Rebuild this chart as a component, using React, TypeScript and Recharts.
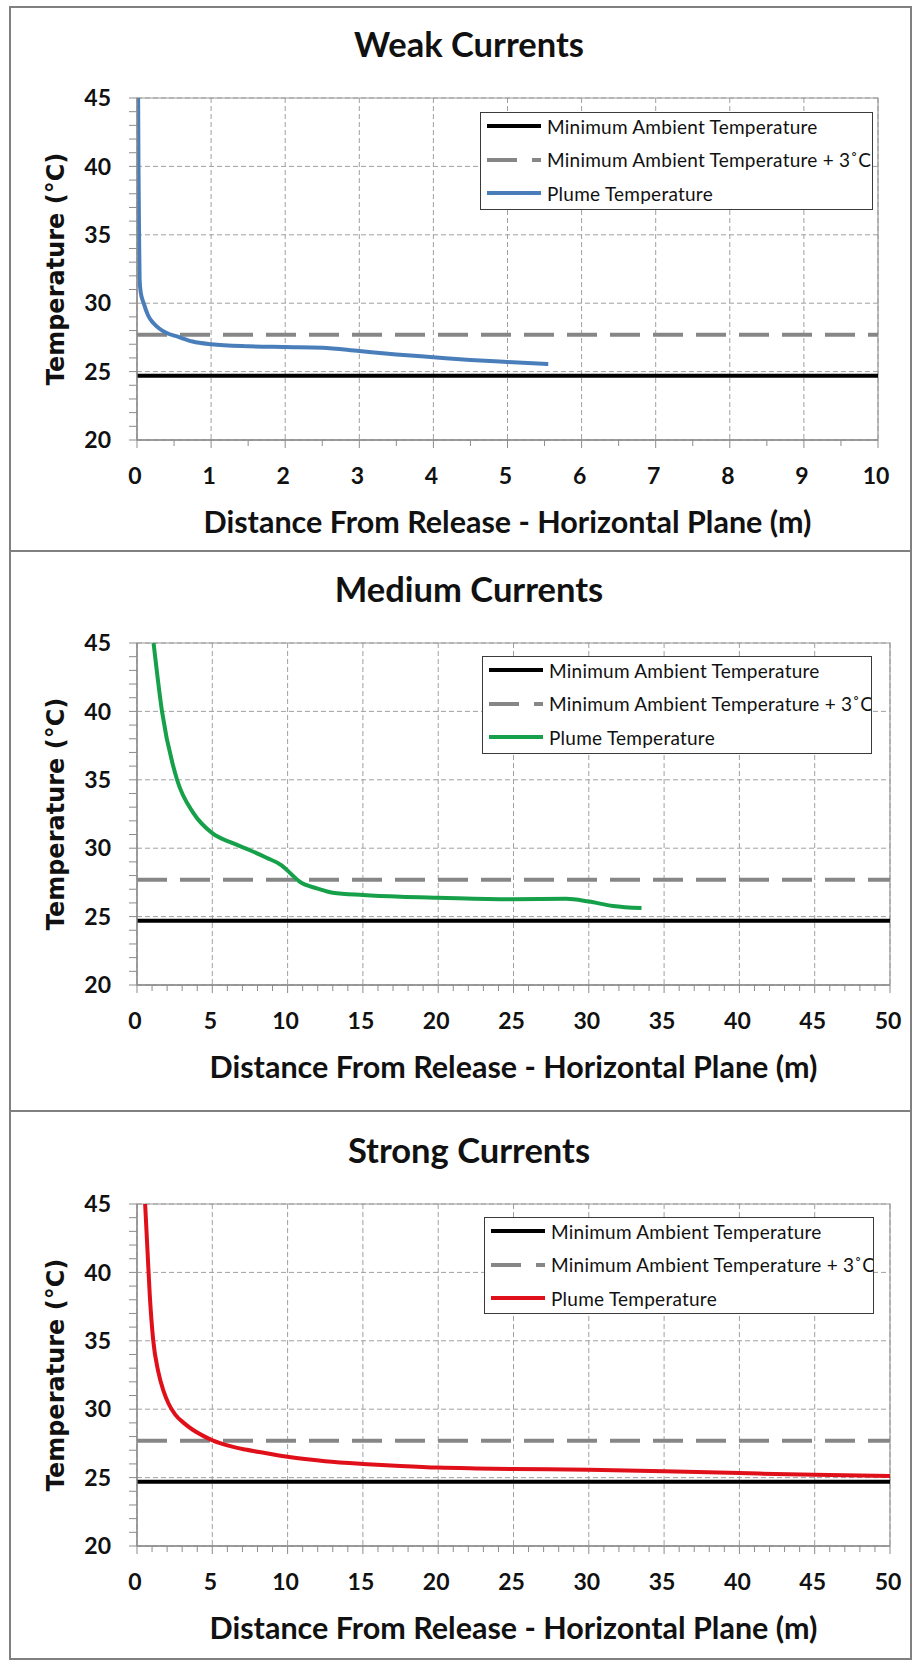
import React from "react";
import { LineChart, Line, XAxis, YAxis, CartesianGrid, ReferenceArea } from "recharts";

// ambient reference levels (°C)
const AMBIENT = 24.7;
const AMBIENT_PLUS_3 = 27.7;

const yMajorTicks = [20, 25, 30, 35, 40, 45];
const yMinorTicks = [20, 21, 22, 23, 24, 25, 26, 27, 28, 29, 30, 31, 32, 33, 34, 35, 36, 37, 38, 39, 40, 41, 42, 43, 44, 45];

const weakXTicks = [0, 1, 2, 3, 4, 5, 6, 7, 8, 9, 10];
const weakXMinor = [0, 0.5, 1, 1.5, 2, 2.5, 3, 3.5, 4, 4.5, 5, 5.5, 6, 6.5, 7, 7.5, 8, 8.5, 9, 9.5, 10];
const wideXTicks = [0, 5, 10, 15, 20, 25, 30, 35, 40, 45, 50];
const wideXMinor = Array.from({ length: 51 }, (_, i) => i);

// Weak currents plume
const weakDistance = [0.015, 0.02, 0.028, 0.035, 0.05, 0.09, 0.15, 0.22, 0.3, 0.4, 0.55, 0.75, 1.0, 1.5, 2.0, 2.5, 3.0, 3.5, 4.0, 4.5, 5.0, 5.55];
const weakTemp = [45, 40, 35, 31.8, 30.8, 30.0, 29.1, 28.55, 28.15, 27.82, 27.55, 27.2, 27.0, 26.85, 26.8, 26.75, 26.5, 26.25, 26.05, 25.85, 25.7, 25.55];

// Medium currents plume
const mediumDistance = [1.1, 1.66, 2.66, 3.76, 5.0, 6.4, 7.5, 8.6, 9.6, 10.2, 10.8, 12.0, 13.0, 15.0, 17.5, 20.0, 25.0, 28.5, 30.0, 31.6, 33.5];
const mediumTemp = [45, 40, 35, 32.55, 31.1, 30.35, 29.85, 29.3, 28.75, 28.15, 27.55, 27.05, 26.75, 26.58, 26.45, 26.38, 26.27, 26.3, 26.1, 25.78, 25.62];

// Strong currents plume
const strongDistance = [0.54, 0.7, 0.85, 1.08, 1.4, 1.77, 2.1, 2.54, 3.1, 3.7, 4.4, 5.06, 6.0, 7.2, 8.5, 10.1, 12.5, 15.0, 17.5, 20.0, 22.5, 25.0, 30.0, 35.0, 40.0, 45.0, 50.0];
const strongTemp = [45, 41.5, 38.3, 35, 32.8, 31.3, 30.4, 29.6, 29.0, 28.5, 28.05, 27.7, 27.35, 27.05, 26.8, 26.5, 26.2, 26.0, 25.85, 25.73, 25.67, 25.63, 25.58, 25.47, 25.33, 25.2, 25.12];

const legendLabels = ["Minimum Ambient Temperature", "Minimum Ambient Temperature + 3˚C", "Plume Temperature"];

const FONT = "Lato, 'Open Sans', sans-serif";
const AXIS_GRAY = "#8c8c8c";
const PLOT_LEFT = 137;
const Y_AXIS_W = 60;
const X_AXIS_H = 60;

type PanelProps = {
  title: string;
  top: number;
  height: number;
  plotTop: number;
  plotBottom: number;
  plotRight: number;
  xMax: number;
  xTicks: number[];
  xMinor: number[];
  distance: number[];
  temp: number[];
  color: string;
  legendBox: { left: number; top: number; width: number; height: number };
};

const tickText = { fontFamily: FONT, fontSize: 23, fontWeight: 700, fill: "#111" };

// y tick: short line for every 1°C, label only on the major values
const YTick = (props: any) => {
  const { x, y, payload } = props;
  const major = yMajorTicks.includes(payload.value);
  return (
    <g>
      <line x1={x - 8} x2={x} y1={y} y2={y} stroke={AXIS_GRAY} strokeWidth={1} />
      {major && (
        <text x={x - 26} y={y} dy="0.36em" textAnchor="end" {...tickText}>
          {payload.value}
        </text>
      )}
    </g>
  );
};

const makeXTick = (majors: number[]) => (props: any) => {
  const { x, y, payload } = props;
  const major = majors.includes(payload.value);
  return (
    <g>
      <line x1={x} x2={x} y1={y} y2={y + (major ? 8 : 6)} stroke={AXIS_GRAY} strokeWidth={1} />
      {major && (
        <text x={x - 2} y={y + 36} dy="0.36em" textAnchor="middle" {...tickText}>
          {payload.value}
        </text>
      )}
    </g>
  );
};

const LegendBox = ({ box, color }: { box: PanelProps["legendBox"]; color: string }) => {
  const samples = [
    { stroke: "#000", dash: undefined },
    { stroke: "#868686", dash: "30 15" },
    { stroke: color, dash: undefined },
  ];
  return (
    <div
      style={{
        position: "absolute",
        left: box.left,
        top: box.top,
        width: box.width,
        height: box.height,
        border: "1.3px solid #3a3a3a",
        boxSizing: "border-box",
        background: "#fff",
        overflow: "hidden",
      }}
    >
      <div style={{ marginTop: -3.5 }}>
        {legendLabels.map((label, i) => (
          <div key={label} style={{ display: "flex", alignItems: "center", height: 33.5 }}>
            <svg width={60} height={10} style={{ marginLeft: 5, flexShrink: 0 }}>
              <line x1={1} y1={5} x2={55} y2={5} stroke={samples[i].stroke} strokeWidth={4} strokeDasharray={samples[i].dash} />
            </svg>
            <span style={{ fontFamily: FONT, fontSize: 19, letterSpacing: 0.25, color: "#111", marginLeft: 1, whiteSpace: "nowrap" }}>
              {label}
            </span>
          </div>
        ))}
      </div>
    </div>
  );
};

const CurrentPanel = (p: PanelProps) => {
  const plume = p.distance.map((x, i) => ({ x, t: p.temp[i] }));
  const ambient = [{ x: 0, t: AMBIENT }, { x: p.xMax, t: AMBIENT }];
  const ambientPlus = [{ x: 0, t: AMBIENT_PLUS_3 }, { x: p.xMax, t: AMBIENT_PLUS_3 }];
  const margin = {
    top: p.plotTop - p.top,
    bottom: p.top + p.height - p.plotBottom - X_AXIS_H,
    left: PLOT_LEFT - Y_AXIS_W,
    right: 915 - p.plotRight,
  };
  const plotMidY = (p.plotTop + p.plotBottom) / 2 - p.top;
  const plotMidX = (PLOT_LEFT + p.plotRight) / 2;
  const XTick = makeXTick(p.xTicks);

  return (
    <div style={{ position: "absolute", left: 0, top: p.top, width: 915, height: p.height }}>
      <LineChart width={915} height={p.height} margin={margin}>
        <CartesianGrid
          stroke="#a0a0a0"
          strokeDasharray="5 3"
          horizontalValues={yMajorTicks}
          verticalValues={p.xTicks}
        />
        <XAxis
          type="number"
          dataKey="x"
          domain={[0, p.xMax]}
          allowDataOverflow
          ticks={p.xMinor}
          interval={0}
          tick={<XTick />}
          tickSize={0}
          tickMargin={0}
          tickLine={false}
          axisLine={{ stroke: AXIS_GRAY, strokeWidth: 1.3 }}
          height={X_AXIS_H}
        />
        <YAxis
          type="number"
          domain={[20, 45]}
          allowDataOverflow
          ticks={yMinorTicks}
          interval={0}
          tick={<YTick />}
          tickSize={0}
          tickMargin={0}
          tickLine={false}
          axisLine={{ stroke: AXIS_GRAY, strokeWidth: 1.3 }}
          width={Y_AXIS_W}
        />
        <ReferenceArea x1={0} x2={p.xMax} y1={20} y2={45} fill="none" stroke="#9a9a9a" strokeWidth={1.2} />
        <Line data={ambient} dataKey="t" stroke="#000" strokeWidth={4} dot={false} isAnimationActive={false} />
        <Line
          data={ambientPlus}
          dataKey="t"
          stroke="#868686"
          strokeWidth={4}
          strokeDasharray="30 13"
          dot={false}
          isAnimationActive={false}
        />
        <Line
          data={plume}
          dataKey="t"
          type="monotone"
          stroke={p.color}
          strokeWidth={4}
          dot={false}
          isAnimationActive={false}
        />
      </LineChart>

      <div
        style={{
          position: "absolute",
          left: 169,
          width: 600,
          top: p.plotTop - p.top - 53 - 18,
          textAlign: "center",
          fontFamily: FONT,
          fontWeight: 700,
          fontSize: 34.5,
          lineHeight: "34px",
          color: "#111",
        }}
      >
        {p.title}
      </div>

      <div
        style={{
          position: "absolute",
          left: plotMidX - 400,
          width: 800,
          top: p.plotBottom - p.top + 82 - 16,
          textAlign: "center",
          fontFamily: FONT,
          fontWeight: 700,
          fontSize: 30.5,
          lineHeight: "30px",
          color: "#111",
        }}
      >
        Distance From Release - Horizontal Plane (m)
      </div>

      <div
        style={{
          position: "absolute",
          left: 56 - 150,
          width: 300,
          top: plotMidY - 15,
          height: 30,
          lineHeight: "30px",
          textAlign: "center",
          transform: "rotate(-90deg)",
          fontFamily: "'DejaVu Sans', Verdana, sans-serif",
          fontWeight: 700,
          fontSize: 24,
          color: "#111",
        }}
      >
        Temperature (°C)
      </div>

      <LegendBox box={p.legendBox} color={p.color} />
    </div>
  );
};

export default function App() {
  return (
    <div style={{ position: "absolute", left: 0, top: 0, width: 915, height: 1665, background: "#fff", overflow: "hidden" }}>
      <CurrentPanel
        title="Weak Currents"
        top={7}
        height={544}
        plotTop={98}
        plotBottom={440}
        plotRight={878}
        xMax={10}
        xTicks={weakXTicks}
        xMinor={weakXMinor}
        distance={weakDistance}
        temp={weakTemp}
        color="#4A7EBB"
        legendBox={{ left: 480, top: 112 - 7, width: 393, height: 98 }}
      />
      <CurrentPanel
        title="Medium Currents"
        top={551}
        height={560}
        plotTop={643}
        plotBottom={985}
        plotRight={890}
        xMax={50}
        xTicks={wideXTicks}
        xMinor={wideXMinor}
        distance={mediumDistance}
        temp={mediumTemp}
        color="#16A04A"
        legendBox={{ left: 482, top: 656 - 551, width: 390, height: 98 }}
      />
      <CurrentPanel
        title="Strong Currents"
        top={1111}
        height={549}
        plotTop={1204}
        plotBottom={1546}
        plotRight={890}
        xMax={50}
        xTicks={wideXTicks}
        xMinor={wideXMinor}
        distance={strongDistance}
        temp={strongTemp}
        color="#E0101A"
        legendBox={{ left: 484, top: 1217 - 1111, width: 390, height: 97 }}
      />

      {/* outer frame and panel dividers */}
      <div style={{ position: "absolute", left: 9, top: 6, width: 903, height: 1654, border: "2px solid #808080", boxSizing: "border-box", pointerEvents: "none" }} />
      <div style={{ position: "absolute", left: 9, top: 550, width: 903, height: 2, background: "#808080" }} />
      <div style={{ position: "absolute", left: 9, top: 1110, width: 903, height: 2, background: "#808080" }} />
    </div>
  );
}
